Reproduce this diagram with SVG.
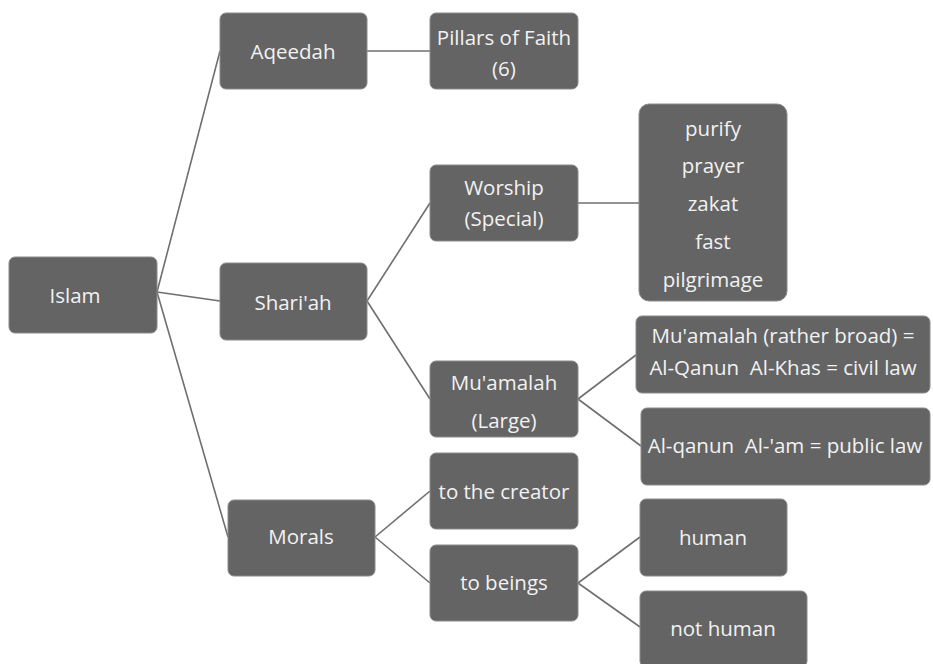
<svg xmlns="http://www.w3.org/2000/svg" width="933" height="664" viewBox="0 0 933 664">
<style>
.n rect{fill:#646464;stroke:#8a8a8a;stroke-width:1}
.n text{fill:#f2f2f2;font-family:"Open Sans","Liberation Sans",sans-serif;font-size:20.5px;text-anchor:middle;dominant-baseline:central}
.c line{stroke:#6f6f6f;stroke-width:1.6}
</style>
<rect width="933" height="664" fill="#ffffff"/>
<g class="c" id="connectors">
<line x1="157" y1="292" x2="220" y2="51"/>
<line x1="157" y1="292" x2="220" y2="301"/>
<line x1="157" y1="292" x2="228" y2="537"/>
<line x1="367" y1="51" x2="430" y2="51"/>
<line x1="367" y1="301" x2="430" y2="203"/>
<line x1="367" y1="301" x2="430" y2="399"/>
<line x1="578" y1="203" x2="639" y2="203"/>
<line x1="578" y1="399" x2="636" y2="355"/>
<line x1="578" y1="399" x2="641" y2="446"/>
<line x1="375" y1="537" x2="430" y2="491"/>
<line x1="375" y1="537" x2="430" y2="583"/>
<line x1="578" y1="583" x2="640" y2="537"/>
<line x1="578" y1="583" x2="640" y2="627"/>
</g>
<g class="n" id="islam"><rect x="9" y="257" width="148" height="76" rx="6"/><text x="75" y="295">Islam</text></g>
<g class="n" id="aqeedah"><rect x="220" y="13" width="147" height="76" rx="6"/><text x="293" y="51">Aqeedah</text></g>
<g class="n" id="pillars"><rect x="430" y="13" width="148" height="76" rx="6"/><text x="504" y="37">Pillars of Faith</text><text x="504" y="68">(6)</text></g>
<g class="n" id="shariah"><rect x="220" y="263" width="147" height="77" rx="6"/><text x="293" y="302">Shari'ah</text></g>
<g class="n" id="worship"><rect x="430" y="165" width="148" height="76" rx="6"/><text x="504" y="187">Worship</text><text x="504" y="218">(Special)</text></g>
<g class="n" id="special-worship"><rect x="639" y="104" width="148" height="197" rx="10"/><text x="713" y="128">purify</text><text x="713" y="165">prayer</text><text x="713" y="203">zakat</text><text x="713" y="241">fast</text><text x="713" y="279">pilgrimage</text></g>
<g class="n" id="muamalah"><rect x="430" y="361" width="148" height="76" rx="6"/><text x="504" y="382">Mu'amalah</text><text x="504" y="420">(Large)</text></g>
<g class="n" id="civil"><rect x="636" y="316" width="294" height="77" rx="6"/><text x="783" y="335">Mu'amalah (rather broad) =</text><text x="783" y="367" xml:space="preserve">Al-Qanun  Al-Khas = civil law</text></g>
<g class="n" id="public"><rect x="641" y="408" width="289" height="77" rx="6"/><text x="785" y="445" xml:space="preserve">Al-qanun  Al-'am = public law</text></g>
<g class="n" id="morals"><rect x="228" y="500" width="147" height="76" rx="6"/><text x="301" y="536">Morals</text></g>
<g class="n" id="creator"><rect x="430" y="453" width="148" height="76" rx="6"/><text x="504" y="491">to the creator</text></g>
<g class="n" id="beings"><rect x="430" y="545" width="148" height="76" rx="6"/><text x="504" y="582">to beings</text></g>
<g class="n" id="human"><rect x="640" y="499" width="147" height="77" rx="6"/><text x="713" y="537">human</text></g>
<g class="n" id="nothuman"><rect x="640" y="591" width="167" height="76" rx="6"/><text x="723" y="628">not human</text></g>
</svg>
